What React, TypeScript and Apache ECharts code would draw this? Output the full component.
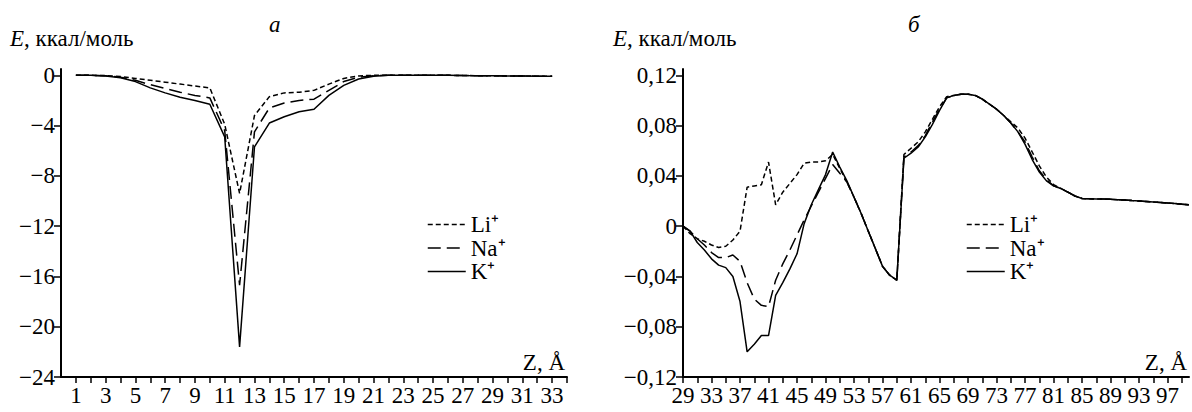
import React, { useEffect, useRef } from 'react';
import * as echarts from 'echarts';

const FONT = 'Liberation Serif';

// ---------- panel "а" ----------
const leftZ = [1, 2, 3, 4, 5, 6, 7, 8, 9, 10, 11, 12, 13, 14, 15, 16, 17, 18, 19, 20, 21, 22, 23, 24, 25, 26, 27, 28, 29, 30, 31, 32, 33];
const leftLi = [0, 0, -0.02, -0.1, -0.25, -0.4, -0.55, -0.7, -0.85, -1.0, -3.9, -9.4, -3.2, -1.7, -1.4, -1.35, -1.2, -0.7, -0.25, -0.05, 0, 0, 0, 0, 0, 0, -0.02, -0.03, -0.04, -0.05, -0.06, -0.07, -0.08];
const leftNa = [0, 0, -0.03, -0.15, -0.4, -0.75, -1.05, -1.35, -1.6, -1.8, -4.4, -16.7, -4.5, -2.6, -2.2, -2.0, -1.9, -1.2, -0.5, -0.15, -0.03, 0, 0, 0, 0, 0, -0.02, -0.03, -0.04, -0.05, -0.06, -0.07, -0.08];
const leftK = [0, 0, -0.05, -0.2, -0.5, -1.0, -1.4, -1.75, -2.0, -2.3, -4.9, -21.6, -5.7, -3.8, -3.3, -2.9, -2.7, -1.6, -0.8, -0.3, -0.08, 0, 0, 0, 0, 0, -0.02, -0.03, -0.04, -0.05, -0.06, -0.07, -0.08];
const leftXTicks = [1, 2, 3, 4, 5, 6, 7, 8, 9, 10, 11, 12, 13, 14, 15, 16, 17, 18, 19, 20, 21, 22, 23, 24, 25, 26, 27, 28, 29, 30, 31, 32, 33, 34];
const leftXLabels = [1, 3, 5, 7, 9, 11, 13, 15, 17, 19, 21, 23, 25, 27, 29, 31, 33];
const leftYTicks = [-24, -20, -16, -12, -8, -4, 0];

// ---------- panel "б" ----------
const rightZ = [29, 30, 31, 32, 33, 34, 35, 36, 37, 38, 39, 40, 41, 42, 43, 44, 45, 46, 47, 48, 49, 50, 51, 52, 53, 54, 55, 56, 57, 58, 59, 60, 61, 62, 63, 64, 65, 66, 67, 68, 69, 70, 71, 72, 73, 74, 75, 76, 77, 78, 79, 80, 81, 82, 83, 84, 85, 86, 87, 88, 89, 90, 91, 92, 93, 94, 95, 96, 97, 98, 99, 100];
const rightK = [0, -0.004, -0.013, -0.019, -0.026, -0.031, -0.033, -0.040, -0.060, -0.100, -0.094, -0.087, -0.087, -0.055, -0.045, -0.034, -0.022, 0.002, 0.017, 0.029, 0.041, 0.059, 0.047, 0.036, 0.023, 0.010, -0.004, -0.018, -0.032, -0.039, -0.043, 0.054, 0.058, 0.063, 0.071, 0.081, 0.092, 0.102, 0.104, 0.105, 0.105, 0.104, 0.101, 0.097, 0.093, 0.088, 0.082, 0.075, 0.065, 0.053, 0.043, 0.036, 0.032, 0.030, 0.027, 0.024, 0.022, 0.0218, 0.0216, 0.0215, 0.0213, 0.021, 0.0207, 0.0203, 0.020, 0.0196, 0.0192, 0.0188, 0.0184, 0.018, 0.0175, 0.017];
const rightLi = [0, -0.006, -0.010, -0.012, -0.015, -0.017, -0.016, -0.011, -0.004, 0.031, 0.032, 0.033, 0.051, 0.017, 0.027, 0.034, 0.041, 0.050, 0.051, 0.051, 0.052, 0.057, 0.046, 0.035, 0.023, 0.010, -0.004, -0.018, -0.032, -0.039, -0.043, 0.057, 0.062, 0.067, 0.075, 0.085, 0.095, 0.103, 0.104, 0.105, 0.105, 0.104, 0.101, 0.097, 0.093, 0.088, 0.083, 0.078, 0.070, 0.059, 0.048, 0.039, 0.033, 0.030, 0.027, 0.024, 0.022, 0.0218, 0.0216, 0.0215, 0.0213, 0.021, 0.0207, 0.0203, 0.020, 0.0196, 0.0192, 0.0188, 0.0184, 0.018, 0.0175, 0.017];
const rightNa = [0, -0.004, -0.010, -0.015, -0.021, -0.025, -0.025, -0.023, -0.028, -0.045, -0.058, -0.063, -0.064, -0.043, -0.030, -0.019, -0.007, 0.005, 0.016, 0.027, 0.038, 0.049, 0.042, 0.035, 0.023, 0.010, -0.004, -0.018, -0.032, -0.039, -0.043, 0.055, 0.059, 0.064, 0.072, 0.083, 0.093, 0.102, 0.104, 0.105, 0.105, 0.104, 0.101, 0.097, 0.093, 0.088, 0.082, 0.075, 0.067, 0.055, 0.044, 0.037, 0.032, 0.030, 0.027, 0.024, 0.022, 0.0218, 0.0216, 0.0215, 0.0213, 0.021, 0.0207, 0.0203, 0.020, 0.0196, 0.0192, 0.0188, 0.0184, 0.018, 0.0175, 0.017];
const rightXTicks = [29, 31, 33, 35, 37, 39, 41, 43, 45, 47, 49, 51, 53, 55, 57, 59, 61, 63, 65, 67, 69, 71, 73, 75, 77, 79, 81, 83, 85, 87, 89, 91, 93, 95, 97, 99];
const rightXLabels = [29, 33, 37, 41, 45, 49, 53, 57, 61, 65, 69, 73, 77, 81, 85, 89, 93, 97];
const rightYTicks = [-0.12, -0.08, -0.04, 0, 0.04, 0.08, 0.12];

const seriesNames = ['Li⁺', 'Na⁺', 'K⁺'];
const dashes: any[] = [[5, 3], [13, 6], 'solid'];

const pairs = (xs: number[], ys: number[]) => xs.map((x, i) => [x, ys[i]]);
const inList = (list: number[], v: number) => list.some((t) => Math.abs(t - v) < 1e-6);

const TICK_SIZE = 23;
const NAME_SIZE = 23;
const LEG_SIZE = 23;

function xAxisCfg(gridIndex: number, min: number, max: number, interval: number, ticks: number[], labels: number[]) {
  return {
    type: 'value', gridIndex, min, max, interval,
    name: 'Z, Å', nameLocation: 'end', nameGap: -2,
    nameTextStyle: { fontFamily: FONT, fontSize: NAME_SIZE, color: '#000', align: 'right', verticalAlign: 'bottom', padding: [0, 0, 3, 0] },
    axisLine: { onZero: false, lineStyle: { color: '#000', width: 2 } },
    axisTick: { show: true, length: 6, inside: false, customValues: ticks, lineStyle: { color: '#000', width: 1.5 } },
    axisLabel: {
      show: true, fontFamily: FONT, fontSize: TICK_SIZE, color: '#000', margin: 7,
      showMinLabel: true, showMaxLabel: true, hideOverlap: false,
      formatter: (v: number) => (inList(labels, v) ? String(Math.round(v)) : ''),
    },
    splitLine: { show: false },
  };
}

function yAxisCfg(gridIndex: number, min: number, max: number, interval: number, ticks: number[], fmt: (v: number) => string) {
  return {
    type: 'value', gridIndex, min, max, interval,
    axisLine: { show: true, onZero: false, lineStyle: { color: '#000', width: 2 } },
    axisTick: { show: true, length: 7, customValues: ticks, lineStyle: { color: '#000', width: 1.5 } },
    axisLabel: {
      show: true, fontFamily: FONT, fontSize: TICK_SIZE, color: '#000', margin: 6,
      formatter: (v: number) => (inList(ticks, v) ? fmt(v) : ''),
    },
    splitLine: { show: false },
  };
}

const fmtLeft = (v: number) => (Math.abs(v) < 1e-9 ? '0' : String(Math.round(v)).replace('-', '−'));
const fmtRight = (v: number) => (Math.abs(v) < 1e-9 ? '0' : v.toFixed(2).replace('.', ',').replace('-', '−'));

function makeSeries(xi: number, xs: number[], data: number[][]) {
  return data.map((ys, i) => ({
    type: 'line', name: seriesNames[i], xAxisIndex: xi, yAxisIndex: xi,
    data: pairs(xs, ys), symbol: 'none', showSymbol: false,
    lineStyle: { color: '#000', width: 1.5, type: dashes[i] },
    itemStyle: { color: '#000' },
  }));
}

function legendCfg(left: number) {
  return {
    left, top: 208, orient: 'vertical', itemWidth: 38, itemHeight: 10, itemGap: 0.5, itemTextGap: 10,
    selectedMode: false, data: seriesNames,
    itemStyle: { opacity: 0, color: 'transparent', borderColor: 'transparent', borderWidth: 0 },
    lineStyle: { width: 1.5 },
    textStyle: { fontFamily: FONT, fontSize: LEG_SIZE, color: '#000', lineHeight: 22 },
  };
}

const richE = { i: { fontStyle: 'italic', fontFamily: FONT, fontSize: NAME_SIZE, fill: '#000' } };

const option: any = {
  animation: false,
  backgroundColor: '#fff',
  textStyle: { fontFamily: FONT },
  title: [
    { text: 'а', left: 264, top: 8, textStyle: { fontFamily: FONT, color: '#000', fontSize: NAME_SIZE, fontStyle: 'italic', fontWeight: 'normal' } },
    { text: 'б', left: 903, top: 8, textStyle: { fontFamily: FONT, color: '#000', fontSize: NAME_SIZE, fontStyle: 'italic', fontWeight: 'normal' } },
  ],
  grid: [
    { left: 61, top: 69, width: 506, height: 308 },
    { left: 683, top: 69, width: 508, height: 308 },
  ],
  xAxis: [
    xAxisCfg(0, 0, 34, 1, leftXTicks, leftXLabels),
    xAxisCfg(1, 29, 100, 2, rightXTicks, rightXLabels),
  ],
  yAxis: [
    yAxisCfg(0, -24, 0.5, 4, leftYTicks, fmtLeft),
    yAxisCfg(1, -0.12, 0.125, 0.04, rightYTicks, fmtRight),
  ],
  legend: [legendCfg(422), legendCfg(961)],
  graphic: [
    { type: 'text', left: 10, top: 27, style: { text: '{i|E}, ккал/моль', fontFamily: FONT, fontSize: NAME_SIZE, fill: '#000', rich: richE } },
    { type: 'text', left: 613, top: 27, style: { text: '{i|E}, ккал/моль', fontFamily: FONT, fontSize: NAME_SIZE, fill: '#000', rich: richE } },
  ],
  series: [
    ...makeSeries(0, leftZ, [leftLi, leftNa, leftK]),
    ...makeSeries(1, rightZ, [rightLi, rightNa, rightK]),
  ],
};

export default function App() {
  const ref = useRef<HTMLDivElement>(null);
  useEffect(() => {
    document.body.style.margin = '0';
    const chart = echarts.init(ref.current as HTMLDivElement, null, { renderer: 'svg' });
    chart.setOption(option);
    return () => chart.dispose();
  }, []);
  return <div ref={ref} style={{ width: 1192, height: 412 }} />;
}
